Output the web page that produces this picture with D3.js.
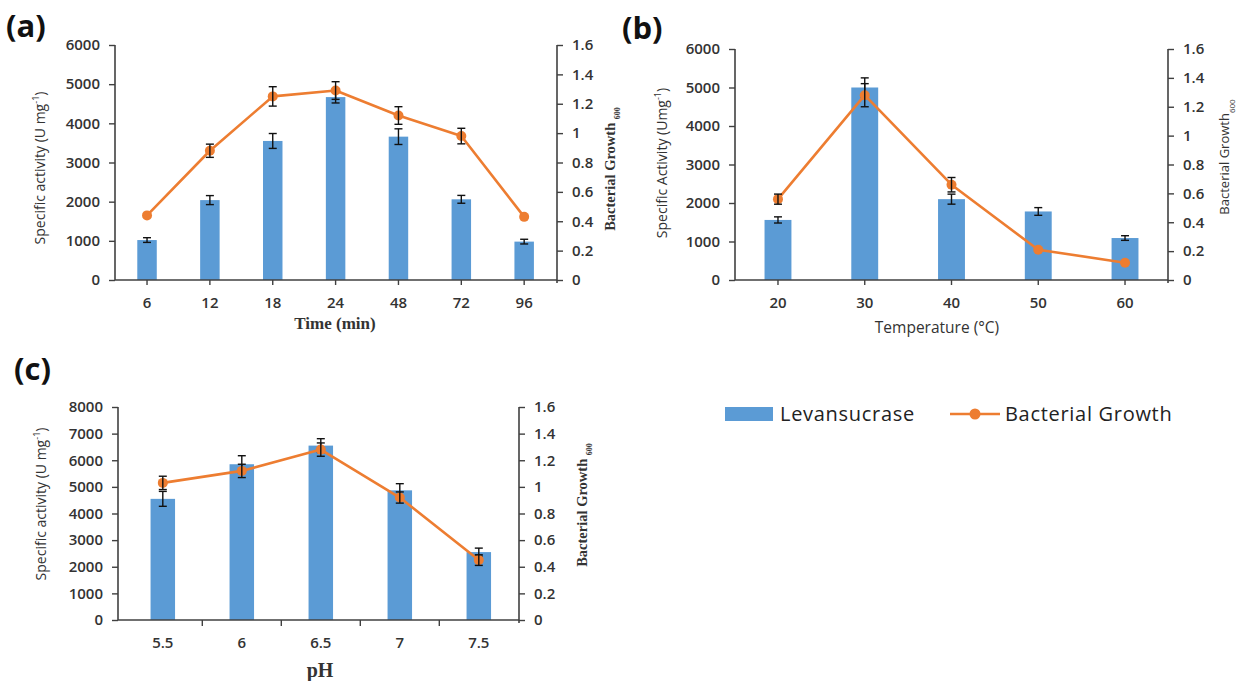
<!DOCTYPE html>
<html><head><meta charset="utf-8">
<script src="https://cdn.jsdelivr.net/npm/d3@7"></script>
<style>body{margin:0;background:#fff} svg{display:block}</style>
</head><body><svg id="chart" width="1237" height="681"></svg>
<script>
// ---- data ----
const timeCategories = ["6","12","18","24","48","72","96"];
const timeActivity    = [1020, 2040, 3550, 4670, 3660, 2060, 980];
const timeActivityErr = [60, 115, 190, 150, 200, 100, 60];
const timeGrowth      = [0.44, 0.88, 1.25, 1.29, 1.12, 0.98, 0.43];
const timeGrowthErr   = [0, 0.045, 0.066, 0.06, 0.06, 0.053, 0];

const tempCategories = ["20","30","40","50","60"];
const tempActivity    = [1560, 5000, 2100, 1780, 1090];
const tempActivityErr = [80, 250, 130, 100, 60];
const tempGrowth      = [0.56, 1.28, 0.66, 0.21, 0.12];
const tempGrowthErr   = [0.035, 0.08, 0.05, 0, 0];

const phCategories = ["5.5","6","6.5","7","7.5"];
const phActivity    = [4550, 5850, 6550, 4870, 2550];
const phActivityErr = [280, 320, 260, 250, 150];
const phGrowth      = [1.03, 1.12, 1.28, 0.92, 0.45];
const phGrowthErr   = [0.05, 0.05, 0.05, 0.042, 0.04];

const activityTicksAB = [0,1000,2000,3000,4000,5000,6000];
const activityTicksC  = [0,1000,2000,3000,4000,5000,6000,7000,8000];
const growthTicks     = [0,0.2,0.4,0.6,0.8,1,1.2,1.4,1.6];

const seriesNames = ["Levansucrase", "Bacterial Growth"];

// ---- style ----
const BLUE = "#5b9bd5", ORANGE = "#ed7d31", AXIS = "#404040", TXT = "#333";
const SANS = "'Open Sans', 'DejaVu Sans', sans-serif";
const SERIF = "'Liberation Serif', 'DejaVu Serif', serif";

const panels = [
  { label:"(a)", labelPos:[6,37], cats:timeCategories, act:timeActivity, actErr:timeActivityErr,
    gr:timeGrowth, grErr:timeGrowthErr, actTicks:activityTicksAB,
    ax0:115, ax1:557, bx0:115.6, bx1:555.6, y0:45, y1:280, tickAtCenter:true,
    leftTitle:["Specific activity (U mg","-1",")"], leftPos:[40,168],
    rightFont:SERIF, rightBold:true, rightSize:14.5, rightPos:[610,169],
    xTitle:"Time (min)", xFont:SERIF, xBold:true, xSize:17, xPos:[335,323] },
  { label:"(b)", labelPos:[622,39], cats:tempCategories, act:tempActivity, actErr:tempActivityErr,
    gr:tempGrowth, grErr:tempGrowthErr, actTicks:activityTicksAB,
    ax0:735, ax1:1168, bx0:734.6, bx1:1168.4, y0:49, y1:280, tickAtCenter:true,
    leftTitle:["Specific Activity (Umg","-1",")"], leftPos:[662,163],
    rightFont:SANS, rightBold:false, rightSize:13, rightPos:[1224,157],
    xTitle:"Temperature (°C)", xFont:SANS, xBold:false, xSize:15.5, xPos:[937,328] },
  { label:"(c)", labelPos:[14,380], cats:phCategories, act:phActivity, actErr:phActivityErr,
    gr:phGrowth, grErr:phGrowthErr, actTicks:activityTicksC,
    ax0:118, ax1:519, bx0:123.3, bx1:518.3, y0:407, y1:620, tickAtCenter:false,
    leftTitle:["Specific activity (U mg","-1",")"], leftPos:[41,504],
    rightFont:SERIF, rightBold:true, rightSize:14.5, rightPos:[582,505],
    xTitle:"pH", xFont:SERIF, xBold:true, xSize:20, xPos:[320,670] }
];

const svg = d3.select("#chart");

function growthFmt(d){ return d === 0 ? "0" : String(+d.toFixed(1)); }

panels.forEach(p => {
  const g = svg.append("g");
  const x = d3.scaleBand().domain(p.cats).range([p.bx0, p.bx1]).paddingInner(0).paddingOuter(0);
  const yL = d3.scaleLinear().domain([0, d3.max(p.actTicks)]).range([p.y1, p.y0]);
  const yR = d3.scaleLinear().domain([0, 1.6]).range([p.y1, p.y0]);
  const step = x.step();
  const bw = step * 0.31;
  const cx = c => x(c) + step / 2;

  // bars
  g.selectAll("rect.bar").data(p.cats).join("rect")
    .attr("x", c => cx(c) - bw/2).attr("width", bw)
    .attr("y", (c,i) => yL(p.act[i])).attr("height", (c,i) => yL(0) - yL(p.act[i]))
    .attr("fill", BLUE);

  // error bar helper
  function errBars(vals, errs, scale){
    p.cats.forEach((c,i) => {
      if (!errs[i]) return;
      const xx = cx(c), t = scale(vals[i] + errs[i]), b = scale(vals[i] - errs[i]);
      g.append("line").attr("x1",xx).attr("x2",xx).attr("y1",t).attr("y2",b)
        .attr("stroke","#111").attr("stroke-width",1.4);
      [t,b].forEach(yy => g.append("line").attr("x1",xx-4).attr("x2",xx+4).attr("y1",yy).attr("y2",yy)
        .attr("stroke","#111").attr("stroke-width",1.4));
    });
  }
  errBars(p.act, p.actErr, yL);

  // line
  const line = d3.line().x((d,i) => cx(p.cats[i])).y(d => yR(d));
  g.append("path").datum(p.gr).attr("d", line).attr("fill","none")
    .attr("stroke", ORANGE).attr("stroke-width", 2.6).attr("stroke-linejoin","round");
  g.selectAll("circle.pt").data(p.gr).join("circle")
    .attr("cx", (d,i) => cx(p.cats[i])).attr("cy", d => yR(d)).attr("r", 5).attr("fill", ORANGE);
  errBars(p.gr, p.grErr, yR);

  // axes
  const left = d3.axisLeft(yL).tickValues(p.actTicks).tickSize(6).tickPadding(9).tickFormat(d3.format("d"));
  const gl = g.append("g").attr("transform", `translate(${p.ax0},0)`).call(left);
  const right = d3.axisRight(yR).tickValues(growthTicks).tickSize(6).tickPadding(9).tickFormat(growthFmt);
  const gr = g.append("g").attr("transform", `translate(${p.ax1},0)`).call(right);
  [gl, gr].forEach(a => {
    a.select(".domain").remove();
    a.selectAll(".tick line").attr("stroke", AXIS).attr("stroke-width", 1.4);
    a.selectAll(".tick text").attr("font-family", SANS).attr("font-weight", 600)
      .attr("font-size", 15).attr("fill", TXT);
  });
  // axis lines
  g.append("line").attr("x1",p.ax0).attr("x2",p.ax0).attr("y1",p.y0).attr("y2",p.y1)
    .attr("stroke",AXIS).attr("stroke-width",1.6);
  g.append("line").attr("x1",p.ax1).attr("x2",p.ax1).attr("y1",p.y0).attr("y2",p.y1+3)
    .attr("stroke",AXIS).attr("stroke-width",1.6);
  g.append("line").attr("x1",p.ax0).attr("x2",p.ax1).attr("y1",p.y1).attr("y2",p.y1)
    .attr("stroke",AXIS).attr("stroke-width",1.6);

  // bottom labels
  const bottom = d3.axisBottom(x).tickSize(p.tickAtCenter ? 5 : 0).tickPadding(p.tickAtCenter ? 12 : 17);
  const gb = g.append("g").attr("transform", `translate(0,${p.y1})`).call(bottom);
  gb.select(".domain").remove();
  gb.selectAll(".tick line").attr("stroke", AXIS).attr("stroke-width", 1.4);
  gb.selectAll(".tick text").attr("font-family", SANS).attr("font-weight", 600)
    .attr("font-size", 15).attr("fill", TXT);
  if (!p.tickAtCenter) {
    p.cats.slice(1).forEach(c => {
      g.append("line").attr("x1", x(c)).attr("x2", x(c)).attr("y1", p.y1).attr("y2", p.y1 + 6)
        .attr("stroke", AXIS).attr("stroke-width", 1.4);
    });
  }

  // left title
  const lt = g.append("text").attr("transform", `translate(${p.leftPos[0]},${p.leftPos[1]}) rotate(-90)`)
    .attr("text-anchor","middle").attr("dy","0.35em")
    .attr("font-family", SANS).attr("font-size", 14).attr("fill", TXT);
  lt.append("tspan").text(p.leftTitle[0]);
  lt.append("tspan").attr("baseline-shift","super").attr("font-size",9).text(p.leftTitle[1]);
  lt.append("tspan").text(p.leftTitle[2]);

  // right title
  const rt = g.append("text").attr("transform", `translate(${p.rightPos[0]},${p.rightPos[1]}) rotate(-90)`)
    .attr("text-anchor","middle").attr("dy","0.35em")
    .attr("font-family", p.rightFont).attr("font-weight", p.rightBold ? 700 : 400)
    .attr("font-size", p.rightSize).attr("fill", TXT);
  rt.append("tspan").text(p.rightFont === SERIF ? "Bacterial Growth " : "Bacterial Growth");
  rt.append("tspan").attr("baseline-shift","sub").attr("font-size",8).text("600");

  // x title
  g.append("text").attr("x", p.xPos[0]).attr("y", p.xPos[1]).attr("dy","0.35em")
    .attr("text-anchor","middle").attr("font-family", p.xFont).attr("font-weight", p.xBold ? 700 : 400)
    .attr("font-size", p.xSize).attr("fill", TXT).text(p.xTitle);

  // panel label
  svg.append("text").attr("x", p.labelPos[0]).attr("y", p.labelPos[1])
    .attr("font-family", SANS).attr("font-weight", 700).attr("font-size", 31).attr("fill", "#111")
    .text(p.label);
});

// legend
const lg = svg.append("g");
lg.append("rect").attr("x", 725).attr("y", 407).attr("width", 48).attr("height", 14).attr("fill", BLUE);
lg.append("text").attr("x", 780).attr("y", 414).attr("dy","0.35em").attr("font-family", SANS)
  .attr("font-size", 20).attr("letter-spacing", 0.7).attr("fill", "#222").text(seriesNames[0]);
lg.append("line").attr("x1", 950).attr("x2", 1000).attr("y1", 414).attr("y2", 414)
  .attr("stroke", ORANGE).attr("stroke-width", 2.6);
lg.append("circle").attr("cx", 975).attr("cy", 414).attr("r", 5.5).attr("fill", ORANGE);
lg.append("text").attr("x", 1005).attr("y", 414).attr("dy","0.35em").attr("font-family", SANS)
  .attr("font-size", 20).attr("letter-spacing", 0.7).attr("fill", "#222").text(seriesNames[1]);
</script></body></html>
